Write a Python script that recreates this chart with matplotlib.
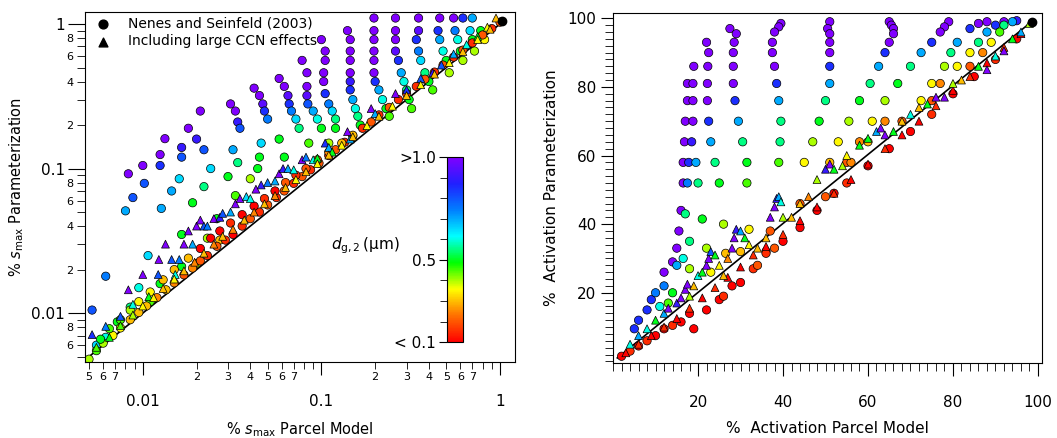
import numpy as np
import matplotlib
matplotlib.use('Agg')
import matplotlib.pyplot as plt
from matplotlib.colors import LinearSegmentedColormap, Normalize
from matplotlib.ticker import FixedLocator, FuncFormatter, MultipleLocator, NullFormatter

plt.rcParams['font.family'] = ['DejaVu Sans']
plt.rcParams['mathtext.fontset'] = 'dejavusans'

# ---------------- left panel data (x, y, d_g2) ----------------
left_arcs = [
    ([0.0083, 0.0088, 0.0080, 0.0062, 0.0052], [0.092, 0.063, 0.051, 0.018, 0.0105], [1.0, 0.8, 0.7, 0.75, 0.8]),
    ([0.0100, 0.0102, 0.0127, 0.0107, 0.0095, 0.0085, 0.0072, 0.0062, 0.0055],
     [0.105, 0.079, 0.053, 0.025, 0.015, 0.011, 0.0087, 0.0068, 0.006], [1.0, 0.8, 0.7, 0.65, 0.6, 0.55, 0.5, 0.6, 0.65]),
    ([0.0133, 0.0125, 0.0125, 0.0145, 0.0165, 0.0165, 0.0125, 0.011],
     [0.161, 0.125, 0.105, 0.07, 0.035, 0.021, 0.016, 0.012], [1.0, 1.0, 0.85, 0.7, 0.5, 0.5, 0.5, 0.45]),
    ([0.018, 0.0165, 0.0165, 0.016, 0.019, 0.023, 0.02],
     [0.19, 0.14, 0.12, 0.085, 0.058, 0.033, 0.022], [1.0, 0.9, 0.8, 0.65, 0.5, 0.4, 0.4]),
    ([0.021, 0.020, 0.022, 0.024, 0.022, 0.026, 0.027],
     [0.25, 0.16, 0.135, 0.10, 0.075, 0.045, 0.032], [1.0, 0.9, 0.8, 0.65, 0.55, 0.5, 0.3]),
    ([0.031, 0.033, 0.034, 0.035, 0.032, 0.034, 0.030, 0.033],
     [0.28, 0.25, 0.21, 0.19, 0.135, 0.11, 0.088, 0.065], [1.0, 1.0, 0.9, 0.8, 0.7, 0.55, 0.5, 0.45]),
    ([0.042, 0.045, 0.047, 0.048, 0.050, 0.046, 0.045, 0.044, 0.040],
     [0.36, 0.32, 0.28, 0.25, 0.22, 0.15, 0.12, 0.10, 0.085], [1, 1, .95, .85, .75, .65, .5, .5, .4]),
    ([0.058, 0.062, 0.065, 0.066, 0.068, 0.072, 0.075, 0.058, 0.062],
     [0.42, 0.37, 0.32, 0.28, 0.25, 0.22, 0.19, 0.16, 0.12], [1, 1, .95, .85, .75, .65, .55, .5, .5]),
    ([0.078, 0.083, 0.083, 0.083, 0.084, 0.090, 0.095, 0.100, 0.085],
     [0.56, 0.46, 0.37, 0.32, 0.28, 0.25, 0.22, 0.19, 0.15], [1, 1, 1, .95, .8, .7, .6, .5, .45]),
    ([0.100, 0.105, 0.105, 0.103, 0.103, 0.105, 0.110, 0.115, 0.120, 0.120, 0.110],
     [0.78, 0.65, 0.56, 0.46, 0.40, 0.33, 0.28, 0.25, 0.22, 0.19, 0.15], [1, 1, 1, 1, 1, .85, .75, .65, .55, .5, .4]),
    ([0.140, 0.145, 0.145, 0.145, 0.145, 0.145, 0.145, 0.150, 0.155, 0.160, 0.165],
     [0.90, 0.78, 0.65, 0.56, 0.46, 0.40, 0.35, 0.30, 0.26, 0.23, 0.20], [1, 1, 1, 1, 1, .9, .85, .7, .6, .55, .5]),
    ([0.197, 0.197, 0.197, 0.197, 0.197, 0.197, 0.20, 0.21, 0.22, 0.23, 0.24],
     [1.1, 0.9, 0.78, 0.65, 0.56, 0.46, 0.40, 0.35, 0.30, 0.26, 0.23], [1, 1, 1, 1, 1, 1, .85, .7, .6, .5, .45]),
    ([0.26, 0.26, 0.26, 0.26, 0.27, 0.28, 0.29, 0.30, 0.31, 0.32],
     [1.1, 0.9, 0.78, 0.65, 0.56, 0.46, 0.40, 0.35, 0.30, 0.26], [1, 1, 1, .95, .85, .7, .6, .55, .5, .45]),
    ([0.35, 0.35, 0.34, 0.35, 0.36, 0.38, 0.40, 0.42],
     [1.1, 0.9, 0.78, 0.65, 0.56, 0.46, 0.40, 0.35], [1, .95, .85, .75, .65, .55, .5, .45]),
    ([0.46, 0.45, 0.46, 0.48, 0.50, 0.52], [1.1, 0.9, 0.78, 0.65, 0.56, 0.46], [1, .85, .7, .6, .5, .4]),
    ([0.55, 0.56, 0.58, 0.60, 0.62], [1.1, 0.9, 0.78, 0.65, 0.56], [1, .75, .6, .5, .4]),
    ([0.62, 0.68, 0.70, 0.72], [1.1, 0.9, 0.78, 0.65], [.85, .65, .5, .4]),
    ([0.70, 0.78, 0.82], [1.1, 0.9, 0.78], [.7, .5, .35]),
]

left_diag_x = [0.0050, 0.0055, 0.006, 0.0068, 0.0075, 0.0085, 0.0095, 0.0105, 0.012, 0.0135, 0.015, 0.017,
               0.019, 0.021, 0.023, 0.026, 0.029, 0.032, 0.036, 0.040, 0.045, 0.050, 0.056, 0.062, 0.070,
               0.078, 0.087, 0.097, 0.11, 0.12, 0.135, 0.15, 0.17, 0.19, 0.21, 0.24, 0.27, 0.30, 0.34,
               0.38, 0.43, 0.48, 0.55, 0.62, 0.70, 0.80, 0.90, 1.0]
left_diag_y = [0.0048, 0.0055, 0.0062, 0.007, 0.0079, 0.009, 0.0101, 0.0112, 0.0128, 0.0145, 0.0162, 0.0184,
               0.0205, 0.023, 0.025, 0.029, 0.032, 0.035, 0.040, 0.045, 0.050, 0.056, 0.063, 0.070, 0.079,
               0.088, 0.098, 0.109, 0.123, 0.135, 0.152, 0.168, 0.19, 0.21, 0.235, 0.265, 0.30, 0.33, 0.37,
               0.415, 0.465, 0.52, 0.59, 0.66, 0.74, 0.84, 0.93, 1.03]
left_diag_d = [0.4, 0.45, 0.4, 0.35, 0.35, 0.3, 0.3, 0.3, 0.25, 0.3, 0.25, 0.2, 0.25, 0.2, 0.15, 0.2,
               0.15, 0.1, 0.15, 0.2, 0.15, 0.2, 0.15, 0.2, 0.15, 0.2, 0.15, 0.2, 0.15, 0.2, 0.15, 0.2,
               0.15, 0.2, 0.15, 0.2, 0.15, 0.2, 0.15, 0.2, 0.15, 0.2, 0.15, 0.2, 0.15, 0.2, 0.15, 0.2]

left_row2 = [(0.0058, 0.0066, .5), (0.0065, 0.0078, .45), (0.0075, 0.009, .45), (0.0085, 0.0105, .4),
             (0.0095, 0.012, .35), (0.011, 0.014, .35), (0.013, 0.017, .3), (0.015, 0.02, .3),
             (0.018, 0.024, .3), (0.021, 0.028, .1), (0.024, 0.033, .1), (0.027, 0.037, .1),
             (0.031, 0.042, .15), (0.036, 0.048, .1), (0.042, 0.055, .1), (0.048, 0.062, .15),
             (0.055, 0.07, .1), (0.063, 0.08, .2), (0.072, 0.09, .15), (0.082, 0.1, .2),
             (0.095, 0.115, .2), (0.11, 0.13, .25), (0.13, 0.15, .3), (0.15, 0.17, .3)]

left_tri = [(0.0052, 0.0071, 0.85), (0.0062, 0.0081, 0.75), (0.0075, 0.0095, 0.8), (0.0083, 0.0145, 1.0),
            (0.0088, 0.0115, 0.6), (0.010, 0.0185, 1.0), (0.0108, 0.013, 0.5), (0.0122, 0.0185, 0.8),
            (0.0123, 0.0235, 1.0), (0.0134, 0.030, 1.0), (0.0145, 0.0235, 0.8), (0.0152, 0.0185, 0.6),
            (0.016, 0.0235, 0.75), (0.017, 0.030, 1.0), (0.018, 0.037, 1.0), (0.019, 0.030, 0.7),
            (0.020, 0.040, 1.0), (0.021, 0.044, 1.0), (0.022, 0.040, 0.8), (0.023, 0.040, 0.75),
            (0.025, 0.045, 1.0), (0.027, 0.046, 0.9), (0.028, 0.049, 0.8), (0.031, 0.050, 0.7),
            (0.033, 0.057, 1.0), (0.035, 0.062, 1.0), (0.038, 0.064, 0.65), (0.040, 0.062, 0.6),
            (0.043, 0.072, 1.0), (0.046, 0.077, 0.9), (0.050, 0.080, 0.75), (0.055, 0.082, 0.7),
            (0.058, 0.092, 1.0), (0.061, 0.1, 0.9), (0.065, 0.1, 0.7), (0.07, 0.098, 0.6),
            (0.078, 0.115, 1.0), (0.082, 0.12, 0.75), (0.09, 0.115, 0.6), (0.095, 0.118, 0.5),
            (0.105, 0.15, 0.85), (0.11, 0.14, 0.7), (0.115, 0.13, 0.5), (0.14, 0.18, 1.0),
            (0.145, 0.16, 0.7), (0.19, 0.26, 1.0), (0.20, 0.24, 0.7), (0.26, 0.33, 1.0),
            (0.30, 0.35, 0.85), (0.36, 0.42, 0.8), (0.42, 0.46, 0.9), (0.47, 0.52, 0.8),
            (0.55, 0.62, 0.7), (0.65, 0.72, 0.6), (0.75, 0.82, 0.5), (0.85, 0.95, 0.35), (0.95, 1.1, 0.3),
            (0.0055, 0.0058, .45), (0.0065, 0.0068, .5), (0.0075, 0.0082, .45), (0.0088, 0.0097, .4),
            (0.010, 0.0112, .35), (0.0115, 0.0128, .35), (0.013, 0.0148, .3), (0.015, 0.0172, .35),
            (0.017, 0.0196, .3), (0.0195, 0.0225, .25), (0.022, 0.026, .3), (0.025, 0.030, .25),
            (0.028, 0.034, .3), (0.032, 0.038, .25), (0.037, 0.044, .3), (0.042, 0.050, .25),
            (0.048, 0.057, .3), (0.055, 0.065, .25), (0.063, 0.074, .3), (0.072, 0.084, .35),
            (0.082, 0.095, .3), (0.095, 0.108, .35), (0.11, 0.124, .3), (0.13, 0.145, .35),
            (0.15, 0.166, .3), (0.18, 0.198, .35), (0.21, 0.23, .3), (0.25, 0.27, .35),
            (0.3, 0.32, .3), (0.36, 0.38, .35), (0.43, 0.45, .3), (0.52, 0.54, .35),
            (0.62, 0.645, .3), (0.75, 0.78, .35), (0.88, 0.92, .3)]

# ---------------- right panel data ----------------
right_circ = [
    (16.5, 52, 1), (16.5, 58, 1), (16.8, 64, 1), (17, 70, 1), (17.5, 76, 1), (17.5, 81, 1),
    (17.5, 52, .75), (17.8, 58, .85), (18.5, 64, .9), (18.8, 70, 1), (18.8, 76, 1), (18.8, 81, 1), (19, 86, 1),
    (20, 52, .55), (19.5, 58, .7),
    (22, 93, 1), (22.5, 90, 1), (22.3, 86, 1), (22.2, 81, 1), (22.2, 76, 1), (22.5, 70, .85), (23, 64, .7),
    (24, 58, .55), (25, 52, .5),
    (27.5, 97, 1), (29, 95.5, 1), (28.5, 93, 1), (28.3, 90, 1), (28.3, 86, 1), (28.3, 81, 1), (28.7, 76, .85),
    (29.5, 70, .7), (30.5, 64, .55), (31.5, 58, .5), (31.5, 52, .45),
    (39.5, 98.5, 1), (39, 97.5, 1), (38, 96, 1), (37.5, 93, 1), (37.5, 90, 1), (38, 86, 1), (38.5, 81, .85),
    (39, 76, .7), (39.5, 70, .55), (39.3, 64, .55), (39, 58, .45),
    (51, 99, 1), (50.5, 97, 1), (51, 95.5, 1), (51, 93, 1), (51, 90, 1), (51, 86, .85), (51, 81, .7),
    (50, 76, .55), (48.5, 70, .5), (47, 64, .4), (45, 58, .35),
    (65, 99, 1), (65.5, 98, 1), (66, 97, 1), (66, 95.5, 1), (65, 93, 1), (64, 90, .85), (62.5, 86, .7),
    (60.5, 81, .55), (58, 76, .5), (55.5, 70, .4), (53, 64, .35), (51, 58, .3),
    (79, 99, 1), (78, 97.5, 1), (77, 96, 1), (75, 93, .85), (72.5, 90, .7), (70, 86, .55), (67, 81, .5),
    (64, 76, .4), (61, 70, .35), (58, 64, .25), (55, 58, .2),
    (88, 99, 1), (86, 98.5, 1), (84, 97, .85), (81, 93, .7), (79.5, 90, .55), (78, 86, .4), (75, 81, .35),
    (72.5, 76, .35), (68, 70, .2),
    (92, 99, 1), (90, 98, .85), (88, 96, .7), (86, 93, .55), (84, 90, .35), (81, 86, .35), (77, 81, .25),
    (75, 76, .2),
    (95, 99.3, .9), (94, 99, .7), (92, 98, .55), (91, 96, .45), (89, 93, .35), (87, 90, .25), (84, 86, .2),
    (5, 9.5, .85), (6, 12, .85), (8, 15, .85), (9, 18, .85), (10, 20, .75), (12, 22, .75), (12, 26, 1),
    (14, 29, 1), (15, 33, 1), (15.5, 38, 1), (16, 44, 1), (17, 43, .55), (18, 35, .55), (16.5, 30, .6),
    (15, 28, .7), (21, 41.5, .5), (26, 40, .4), (18, 27, .4), (22, 33, .4), (26.5, 31.5, .3),
    (23, 26, .35), (32, 38.5, .35), (30, 32, .3), (14, 20, .5), (11, 16, .6), (13, 17, .45),
    (36, 32, .15), (37, 38, .2), (44, 46, .2), (50, 48, .2), (56, 58, .25), (60, 64, .3), (64, 70, .25),
    (2, 1.5, .1), (4, 3, .15), (6, 4.5, .1), (8, 6, .15), (10, 7.5, .1), (12, 9.5, .1), (14, 10.5, .15),
    (16, 11.5, .1), (18, 14, .1), (19, 9.5, .1), (22, 15, .1), (25, 18, .1), (26, 19, .15), (28, 22, .1),
    (30, 23, .1), (33, 27, .15), (34, 28, .2), (36, 31.5, .15), (38, 33, .2), (40, 35, .1), (44, 39, .1),
    (48, 44, .1), (52, 49, .1), (55, 52, .15), (60, 57, .1), (65, 62, .1), (70, 67, .1), (75, 72, .15),
    (80, 78, .1), (85, 83, .1), (90, 88, .15), (95, 94, .1),
]

right_tri = [
    (3, 2.5, .1), (6, 5, .15), (9, 7.5, .1), (12, 10, .15), (15, 12.5, .1), (18, 15.5, .15), (21, 18.5, .1),
    (24, 21.5, .15), (27, 24.5, .1), (30, 27.5, .1), (33, 31, .15), (36, 33.5, .1), (40, 37, .15),
    (44, 41, .1), (48, 45, .1), (52, 49, .15), (56, 53, .1), (60, 57.5, .1), (64, 62, .15), (68, 66, .1),
    (72, 70, .1), (76, 74.5, .15), (80, 79, .1), (84, 83, .15), (88, 87, .1), (92, 91.5, .15), (96, 95.5, .1),
    (4, 5, .6), (6, 7.5, .7), (8, 9.5, .6), (10, 12, .5), (12, 14, .7), (13, 15.5, 1.0), (15, 17, .9),
    (16, 18.5, 1), (17, 21, 1), (17.5, 22.5, 1), (18, 19, .4), (19, 22, .3), (20, 25, .6), (21, 26, .5),
    (22, 28, 1), (22.5, 30, 1), (23, 32, .8), (24, 31, .5), (25, 28, .35), (26, 25, .3), (27, 30, .25),
    (28, 33, 1), (28.5, 36, 1), (29, 38.5, .9), (30, 38, .7), (31, 36, .5), (32, 34, .35), (34, 33, .3),
    (36, 36, .3), (37, 42, 1), (38, 45, 1), (38.5, 47.5, .9), (39, 48, .7), (39.5, 46.5, .6), (40, 42, .4),
    (42, 42, .3), (44, 46, .3), (46, 48, .25), (48, 53, .4), (50, 56, .9), (51, 57.5, 1), (52, 56, .5),
    (54, 57, .4), (55, 60, .35), (58, 63, .5), (60, 65, .5), (62, 67, .7), (63, 68, 1), (64, 66, 1),
    (66, 67, .5), (68, 70, .3), (70, 72, .6), (72, 74, .3), (74, 75, .5), (76, 77, 1), (78, 77, 1),
    (80, 81, .4), (82, 82, .3), (86, 86, .5), (88, 85, 1), (90, 89, .6), (92, 90.5, 1), (94, 94, .5),
    (96, 96, .7), (98, 98.5, .4),
]

cmap = LinearSegmentedColormap.from_list(
    'dg2', ['#ff0000', '#ff7000', '#ffff00', '#00ff00', '#00ffff', '#0080ff', '#2020ff', '#8000ff'])
norm = Normalize(0.1, 1.0)
mk = dict(cmap=cmap, norm=norm, edgecolors='black', linewidths=0.5)

fig = plt.figure(figsize=(10.57, 4.38), dpi=100)
ax1 = fig.add_axes([0.080, 0.1735, 0.407, 0.799])
ax2 = fig.add_axes([0.580, 0.171, 0.406, 0.799])

# left panel
lx = np.concatenate([a[0] for a in left_arcs] + [left_diag_x, [p[0] for p in left_row2]])
ly = np.concatenate([a[1] for a in left_arcs] + [left_diag_y, [p[1] for p in left_row2]])
ld = np.concatenate([a[2] for a in left_arcs] + [left_diag_d, [p[2] for p in left_row2]])
tri = np.array(left_tri)
ax1.plot([0.0047, 1.0], [0.0047, 1.0], color='black', lw=1.2, zorder=1)
sc = ax1.scatter(lx, ly, c=ld, s=36, marker='o', zorder=2, **mk)
ax1.scatter(tri[:, 0], tri[:, 1], c=tri[:, 2], s=32, marker='^', zorder=3, **mk)
ax1.scatter([1.03], [1.05], c='black', s=36, zorder=4)
ax1.set_xscale('log')
ax1.set_yscale('log')
ax1.set_xlim(0.00472, 1.21)
ax1.set_ylim(0.00459, 1.21)

xminor = [0.005, 0.006, 0.007, 0.008, 0.009] + [m * 10.0 ** e for e in (-2, -1) for m in range(2, 10)]
ax1.xaxis.set_major_locator(FixedLocator([0.01, 0.1, 1]))
ax1.xaxis.set_minor_locator(FixedLocator(xminor))
ax1.xaxis.set_major_formatter(FuncFormatter(lambda v, p: {0.01: '0.01', 0.1: '0.1', 1: '1'}.get(round(v, 4), '')))

def xminfmt(v, p):
    m = int(round(v / 10 ** np.floor(np.log10(v) + 1e-9)))
    return str(m) if m <= 7 else ''

def yminfmt(v, p):
    m = int(round(v / 10 ** np.floor(np.log10(v) + 1e-9)))
    return str(m) if m % 2 == 0 else ''

ax1.xaxis.set_minor_formatter(FuncFormatter(xminfmt))
yminor = [0.005, 0.006, 0.007, 0.008, 0.009] + [m * 10.0 ** e for e in (-2, -1) for m in range(2, 10)]
ax1.yaxis.set_major_locator(FixedLocator([0.01, 0.1, 1]))
ax1.yaxis.set_minor_locator(FixedLocator(yminor))
ax1.yaxis.set_major_formatter(FuncFormatter(lambda v, p: {0.01: '0.01', 0.1: '0.1', 1: '1'}.get(round(v, 4), '')))
ax1.yaxis.set_minor_formatter(FuncFormatter(yminfmt))
ax1.tick_params(axis='x', which='major', direction='out', length=9, pad=14, labelsize=11)
ax1.tick_params(axis='x', which='minor', direction='out', length=5, pad=2, labelsize=8)
ax1.tick_params(axis='y', which='major', direction='out', length=12, pad=2, labelsize=11)
ax1.tick_params(axis='y', which='minor', direction='out', length=6, pad=2, labelsize=8)
ax1.set_xlabel(r'% $\mathit{s}_{\mathrm{max}}$ Parcel Model', fontsize=10.5, labelpad=8)
ax1.set_ylabel(r'% $\mathit{s}_{\mathrm{max}}$ Parameterization', fontsize=10.5, labelpad=4)

ax1.scatter([], [], c='black', s=40, marker='o', label='Nenes and Seinfeld (2003)')
ax1.scatter([], [], c='black', s=40, marker='^', label='Including large CCN effects')
ax1.legend(loc='upper left', frameon=False, fontsize=10, handletextpad=0.8,
           borderaxespad=0.1, labelspacing=0.3, borderpad=0.2)

cax = fig.add_axes([0.423, 0.219, 0.0151, 0.422])
cb = fig.colorbar(sc, cax=cax)
cb.outline.set_linewidth(0.8)
cax.yaxis.set_ticks_position('left')
cax.yaxis.set_major_locator(FixedLocator([0.1, 0.5, 1.0]))
cax.yaxis.set_minor_locator(FixedLocator([0.2, 0.3, 0.4, 0.6, 0.7, 0.8, 0.9]))
cax.set_yticklabels(['< 0.1', '0.5', '>1.0'])
cax.tick_params(which='major', direction='out', length=6, labelsize=11, pad=2)
cax.tick_params(which='minor', direction='out', length=5)
fig.text(0.313, 0.43, r'$\mathit{d}_{\mathrm{g,2}}\,$(μm)', fontsize=11)

# right panel
rc = np.array(right_circ)
rt = np.array(right_tri)
ax2.plot([1, 98.5], [1, 99], color='black', lw=1.2, zorder=1)
ax2.scatter(rc[:, 0], rc[:, 1], c=rc[:, 2], s=36, marker='o', zorder=2, **mk)
ax2.scatter(rt[:, 0], rt[:, 1], c=rt[:, 2], s=32, marker='^', zorder=3, **mk)
ax2.scatter([98.5], [99], c='black', s=36, zorder=4)
ax2.set_xlim(0, 101)
ax2.set_ylim(-0.5, 101.5)
ax2.xaxis.set_major_locator(FixedLocator([20, 40, 60, 80, 100]))
ax2.xaxis.set_minor_locator(MultipleLocator(2))
ax2.yaxis.set_major_locator(FixedLocator([20, 40, 60, 80, 100]))
ax2.yaxis.set_minor_locator(MultipleLocator(2))
ax2.tick_params(which='major', direction='out', length=9, labelsize=11, pad=14)
ax2.tick_params(axis='y', which='major', pad=3)
ax2.tick_params(which='minor', direction='out', length=6)
ax2.set_xlabel('%  Activation Parcel Model', fontsize=11, labelpad=8)
ax2.set_ylabel('%  Activation Parameterization', fontsize=11, labelpad=6)

fig.savefig('out.png', dpi=100)
